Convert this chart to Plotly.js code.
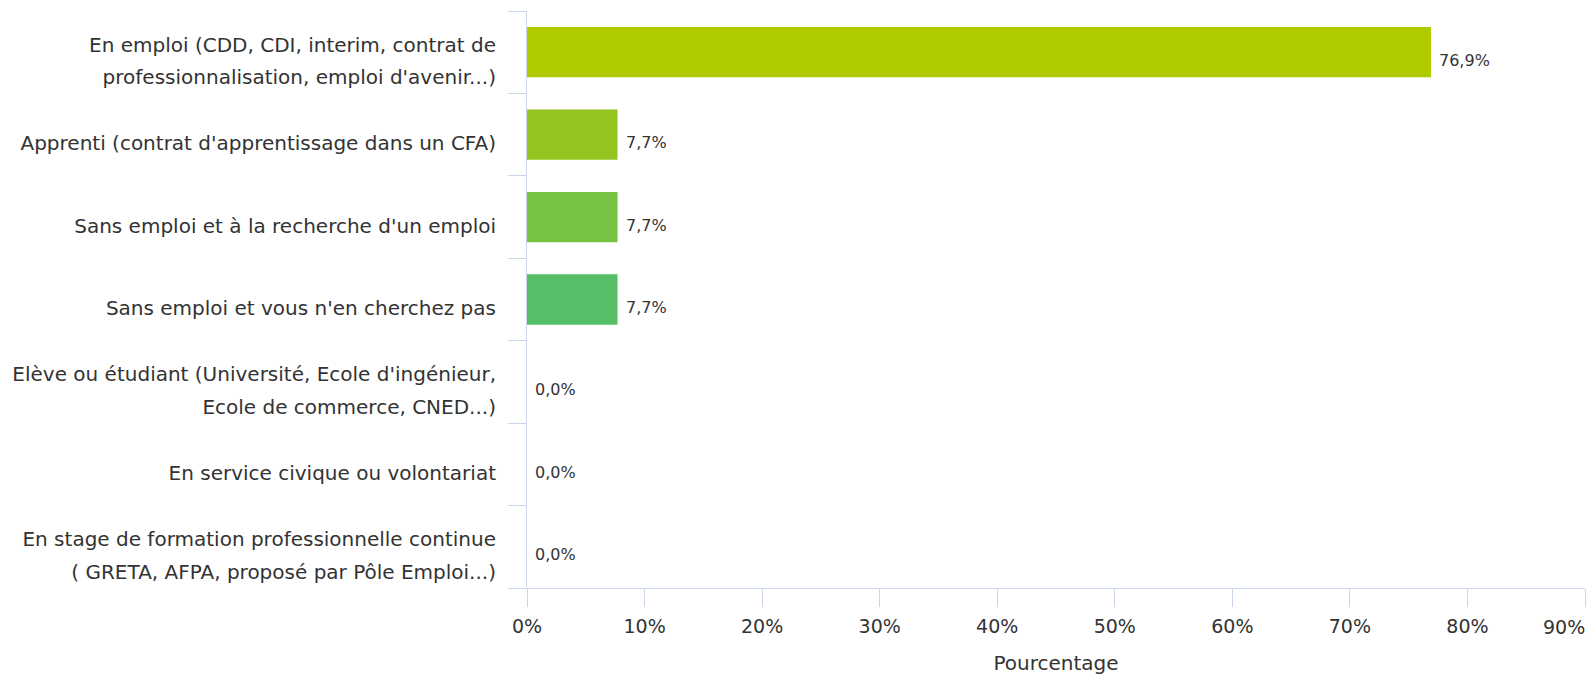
<!DOCTYPE html>
<html>
<head>
<meta charset="utf-8">
<script src="https://cdn.plot.ly/plotly-3.0.1.min.js"></script>
<style>
html,body{margin:0;padding:0;background:#ffffff;}
#chart{width:1594px;height:675px;}
</style>
</head>
<body>
<div id="chart"></div>
<script>
// ---- data ----
const categories = [
  "En emploi (CDD, CDI, interim, contrat de professionnalisation, emploi d'avenir...)",
  "Apprenti (contrat d'apprentissage dans un CFA)",
  "Sans emploi et à la recherche d'un emploi",
  "Sans emploi et vous n'en cherchez pas",
  "Elève ou étudiant (Université, Ecole d'ingénieur, Ecole de commerce, CNED...)",
  "En service civique ou volontariat",
  "En stage de formation professionnelle continue ( GRETA, AFPA, proposé par Pôle Emploi...)"
];
const categoryLines = [
  ["En emploi (CDD, CDI, interim, contrat de", "professionnalisation, emploi d'avenir...)"],
  ["Apprenti (contrat d'apprentissage dans un CFA)"],
  ["Sans emploi et à la recherche d'un emploi"],
  ["Sans emploi et vous n'en cherchez pas"],
  ["Elève ou étudiant (Université, Ecole d'ingénieur,", "Ecole de commerce, CNED...)"],
  ["En service civique ou volontariat"],
  ["En stage de formation professionnelle continue", "( GRETA, AFPA, proposé par Pôle Emploi...)"]
];
const percentages = [76.9, 7.7, 7.7, 7.7, 0.0, 0.0, 0.0];
const valueLabels = ["76,9%", "7,7%", "7,7%", "7,7%", "0,0%", "0,0%", "0,0%"];
const barColors = ["#b0ca00", "#95c421", "#75c244", "#55be66", "#35bb88", "#15b8aa", "#00b5cc"];
const xTickValues = [0, 10, 20, 30, 40, 50, 60, 70, 80, 90];
const xTickLabels = ["0%", "10%", "20%", "30%", "40%", "50%", "60%", "70%", "80%", "90%"];
const xAxisTitle = "Pourcentage";

// ---- style ----
const FONT = "DejaVu Sans, Verdana, sans-serif";
const TEXT = "#333333";
const AXIS = "#ccd6eb";
const LABEL_PX = 20;
const XTICK_PX = 19;

const tickText = categoryLines.map(lines =>
  lines.map(l => '<span style="font-size:' + LABEL_PX + 'px">' + l + '</span>').join('<br>')
);
// the last x tick label is drawn right-aligned on its tick (kept inside the chart)
const lastTick = xTickLabels.length - 1;
const xTickText = xTickLabels.map((t, i) => (i === lastTick ? '' : t));

const trace = {
  type: 'bar',
  orientation: 'h',
  x: percentages,
  y: categories,
  marker: {color: barColors, line: {width: 0}},
  hoverinfo: 'skip'
};

const annotations = categories.map((c, i) => ({
  x: percentages[i],
  y: c,
  xref: 'x',
  yref: 'y',
  text: valueLabels[i],
  showarrow: false,
  xanchor: 'left',
  yanchor: 'middle',
  xshift: 6,
  yshift: -8,
  font: {family: FONT, size: 16, color: TEXT}
}));
annotations.push({
  x: xTickValues[lastTick],
  y: 0,
  xref: 'x',
  yref: 'paper',
  text: xTickLabels[lastTick],
  showarrow: false,
  xanchor: 'right',
  yanchor: 'top',
  xshift: 2,
  yshift: -26,
  font: {family: FONT, size: XTICK_PX, color: TEXT}
});

const layout = {
  width: 1594,
  height: 675,
  margin: {l: 527, r: 9, t: 11, b: 87, pad: 0},
  paper_bgcolor: '#ffffff',
  plot_bgcolor: '#ffffff',
  showlegend: false,
  bargap: 0.39,
  font: {family: FONT, color: TEXT},
  xaxis: {
    range: [0, 90],
    tickmode: 'array',
    tickvals: xTickValues,
    ticktext: xTickText,
    ticks: 'outside',
    ticklen: 18,
    tickwidth: 1,
    tickcolor: AXIS,
    showline: true,
    linecolor: AXIS,
    linewidth: 1,
    showgrid: false,
    zeroline: false,
    tickfont: {family: FONT, size: XTICK_PX, color: TEXT},
    ticklabelstandoff: 3,
    title: {text: xAxisTitle, font: {family: FONT, size: 20, color: TEXT}, standoff: 20},
    fixedrange: true
  },
  yaxis: {
    type: 'category',
    categoryorder: 'array',
    categoryarray: categories,
    range: [6.5, -0.5],
    tickmode: 'array',
    tickvals: categories,
    ticktext: tickText,
    tickson: 'boundaries',
    ticks: 'outside',
    ticklen: 18,
    tickwidth: 1,
    tickcolor: AXIS,
    showline: true,
    linecolor: AXIS,
    linewidth: 1,
    showgrid: false,
    zeroline: false,
    tickfont: {family: FONT, size: 25, color: TEXT},
    ticklabelstandoff: 25,
    ticklabelshift: -7,
    fixedrange: true
  },
  annotations: annotations
};

Plotly.newPlot('chart', [trace], layout, {staticPlot: true, displayModeBar: false, responsive: false});
</script>
</body>
</html>
